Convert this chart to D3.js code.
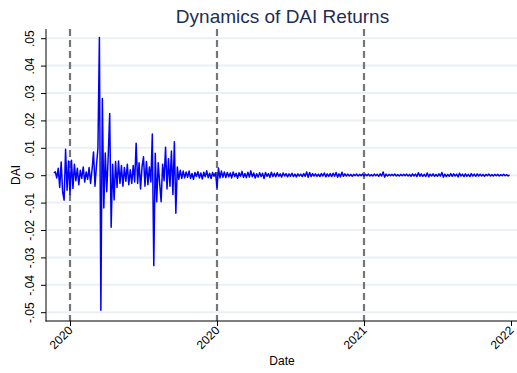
<!DOCTYPE html>
<html>
<head>
<meta charset="utf-8">
<script src="https://cdn.jsdelivr.net/npm/d3@7"></script>
<style>
  html, body { margin: 0; padding: 0; background: #ffffff; }
  svg { display: block; font-family: "Liberation Sans", Arial, sans-serif; }
</style>
</head>
<body>
<svg id="chart" width="517" height="373"></svg>
<script>
// ---- data ----
const chartTitle = "Dynamics of DAI Returns";
const yTitle = "DAI";
const xTitle = "Date";

// x tick positions (observation index) and their labels
const xTickIndex = [11, 111, 211, 311];
const xTickLabels = ["2020", "2020", "2021", "2022"];
// dashed reference lines (observation index)
const refLineIndex = [11, 111, 211];

const yTickValues = [-0.05, -0.04, -0.03, -0.02, -0.01, 0, 0.01, 0.02, 0.03, 0.04, 0.05];
const yTickLabels = ["-.05", "-.04", "-.03", "-.02", "-.01", "0", ".01", ".02", ".03", ".04", ".05"];

// DAI returns, one value per observation (index 0..310)
const daiReturns = [
  0.0008, 0.0012, -0.0010, 0.0025, -0.0045, 0.0048, -0.0062, -0.0091, 0.0095, -0.0055,
  0.0052, -0.0070, 0.0055, -0.0048, 0.0040, -0.0020, 0.0025, -0.0035, 0.0018, -0.0012,
  0.0030, -0.0025, 0.0012, -0.0015, 0.0028, -0.0030, 0.0020, 0.0085, -0.0040, 0.0035,
  0.0098, 0.0503, -0.0493, 0.0280, -0.0120, 0.0081, -0.0060, 0.0070, 0.0225, -0.0190,
  0.0040, -0.0090, 0.0050, -0.0045, 0.0052, -0.0030, 0.0035, -0.0040, 0.0028, -0.0022,
  0.0040, -0.0035, 0.0020, -0.0030, 0.0035, -0.0025, 0.0117, -0.0030, 0.0045, -0.0050,
  0.0030, 0.0067, -0.0040, 0.0050, -0.0035, 0.0030, -0.0025, 0.0150, -0.0330, 0.0080,
  -0.0097, 0.0045, -0.0030, -0.0097, 0.0040, -0.0020, 0.0102, -0.0050, 0.0060, -0.0040,
  0.0088, -0.0070, 0.0122, -0.0139, 0.0030, -0.0015, 0.0018, -0.0012, 0.0015, -0.0010,
  0.0012, -0.0008, 0.0015, -0.0012, 0.0006, -0.0015, 0.0010, -0.0005, 0.0013, -0.0010,
  0.0008, -0.0014, 0.0011, -0.0006, 0.0016, -0.0009, 0.0007, -0.0012, 0.0010, -0.0004,
  0.0009, -0.0046, 0.0026, -0.0010, 0.0015, -0.0008, 0.0012, -0.0009, 0.0010, -0.0006,
  0.0008, -0.0010, 0.0012, -0.0005, 0.0007, -0.0011, 0.0009, -0.0004, 0.0014, -0.0008,
  0.0006, -0.0009, 0.0011, -0.0007, 0.0016, -0.0006, 0.0008, -0.0010, 0.0005, -0.0007,
  0.0009, -0.0005, 0.0007, -0.0012, 0.0010, -0.0004, 0.0006, -0.0008, 0.0011, -0.0005,
  0.0007, -0.0006, 0.0009, -0.0004, 0.0005, -0.0007, 0.0008, -0.0003, 0.0006, -0.0006,
  0.0005, -0.0004, 0.0007, -0.0005, 0.0004, -0.0006, 0.0005, -0.0003, 0.0004, -0.0005,
  0.0006, -0.0004, 0.0012, -0.0008, 0.0010, -0.0005, 0.0006, -0.0003, 0.0005, -0.0004,
  0.0004, -0.0005, 0.0006, -0.0003, 0.0008, -0.0006, 0.0005, -0.0004, 0.0006, -0.0005,
  0.0007, -0.0004, 0.0010, -0.0007, 0.0005, -0.0006, 0.0011, -0.0004, 0.0005, -0.0003,
  0.0004, -0.0003, 0.0003, -0.0004, 0.0003, -0.0002, 0.0004, -0.0003, 0.0003, -0.0002,
  0.0004, -0.0003, 0.0003, -0.0002, 0.0004, -0.0003, 0.0002, -0.0003, 0.0004, -0.0002,
  0.0003, -0.0004, 0.0005, -0.0003, 0.0012, -0.0007, 0.0004, -0.0003, 0.0003, -0.0002,
  0.0003, -0.0002, 0.0004, -0.0003, 0.0002, -0.0003, 0.0003, -0.0002, 0.0003, -0.0002,
  0.0004, -0.0003, 0.0003, -0.0004, 0.0005, -0.0003, 0.0004, -0.0005, 0.0009, -0.0004,
  0.0005, -0.0004, 0.0003, -0.0005, 0.0008, -0.0006, 0.0004, -0.0003, 0.0005, -0.0004,
  0.0003, -0.0004, 0.0005, -0.0003, 0.0010, -0.0007, 0.0004, -0.0005, 0.0003, -0.0004,
  0.0006, -0.0004, 0.0005, -0.0003, 0.0004, -0.0006, 0.0007, -0.0003, 0.0004, -0.0005,
  0.0005, -0.0004, 0.0003, -0.0005, 0.0006, -0.0003, 0.0004, -0.0004, 0.0005, -0.0003,
  0.0004, -0.0003, 0.0003, -0.0004, 0.0003, -0.0002, 0.0004, -0.0003, 0.0002, -0.0003,
  0.0003, -0.0002, 0.0003, -0.0003, 0.0002, -0.0002, 0.0003, -0.0002, 0.0002, -0.0003, 0.0001
];

// ---- layout ----
const svg = d3.select("#chart");
const plotLeft = 46, plotRight = 517, plotTop = 29, plotBottom = 321;

const x = d3.scaleLinear().domain([11, 311]).range([70, 511]);
const y = d3.scaleLinear().domain([-0.05, 0.05]).range([312.2, 38.2]);

// gridlines
svg.append("g").selectAll("line").data(yTickValues).join("line")
  .attr("x1", plotLeft + 1).attr("x2", plotRight)
  .attr("y1", d => y(d)).attr("y2", d => y(d))
  .attr("stroke", "#eaf0f3").attr("stroke-width", 2);

// dashed reference lines
svg.append("g").selectAll("line").data(refLineIndex).join("line")
  .attr("x1", d => x(d)).attr("x2", d => x(d))
  .attr("y1", plotTop).attr("y2", plotBottom)
  .attr("stroke", "#767676").attr("stroke-width", 2.2)
  .attr("stroke-dasharray", "7,4");

// series line
const line = d3.line().x((d, i) => x(i)).y(d => y(d));
svg.append("path").datum(daiReturns)
  .attr("d", line)
  .attr("fill", "none")
  .attr("stroke", "#0000ff")
  .attr("stroke-width", 1.5)
  .attr("stroke-linejoin", "round");

// y axis
const yAxis = d3.axisLeft(y).tickValues(yTickValues)
  .tickFormat((d, i) => yTickLabels[i]).tickSize(5).tickSizeOuter(0);
const gy = svg.append("g").attr("transform", `translate(${plotLeft},0)`).call(yAxis);
gy.select(".domain").attr("d", `M0,${plotTop}V${plotBottom + 0.5}`).attr("stroke", "#000");
gy.selectAll(".tick line").attr("stroke", "#000");
gy.selectAll(".tick text")
  .attr("x", null).attr("dy", null)
  .attr("transform", `translate(-12,0) rotate(-90)`)
  .attr("text-anchor", "middle")
  .attr("font-size", 12)
  .attr("fill", "#000");

// x axis
const xAxis = d3.axisBottom(x).tickValues(xTickIndex)
  .tickFormat((d, i) => xTickLabels[i]).tickSize(5).tickSizeOuter(0);
const gx = svg.append("g").attr("transform", `translate(0,${plotBottom})`).call(xAxis);
gx.select(".domain").attr("d", `M${plotLeft - 0.5},0H${plotRight}`).attr("stroke", "#000");
gx.selectAll(".tick line").attr("stroke", "#000");
gx.selectAll(".tick text")
  .attr("y", null).attr("dy", null)
  .attr("transform", "translate(3,10) rotate(-45)")
  .attr("text-anchor", "end")
  .attr("font-size", 12)
  .attr("fill", "#000");

// titles
svg.append("text")
  .attr("x", 282.5).attr("y", 23)
  .attr("text-anchor", "middle")
  .attr("font-size", 19)
  .attr("fill", "#1e2d55")
  .text(chartTitle);

svg.append("text")
  .attr("transform", "translate(20,175) rotate(-90)")
  .attr("text-anchor", "middle")
  .attr("font-size", 12)
  .attr("fill", "#000")
  .text(yTitle);

svg.append("text")
  .attr("x", 282).attr("y", 365)
  .attr("text-anchor", "middle")
  .attr("font-size", 12)
  .attr("fill", "#000")
  .text(xTitle);
</script>
</body>
</html>
